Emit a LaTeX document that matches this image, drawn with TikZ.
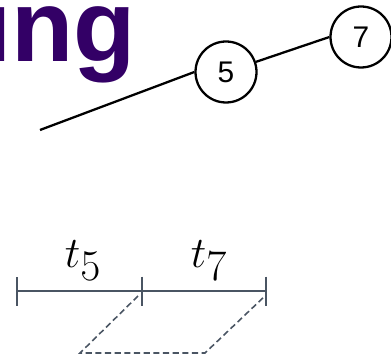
\documentclass[tikz,border=0pt]{standalone}
\usepackage{fontspec}
\setmainfont{Liberation Sans}
\usetikzlibrary{arrows.meta}
\definecolor{titlepurple}{RGB}{51,0,102}
\definecolor{slate}{RGB}{74,85,99}

\begin{document}
\begin{tikzpicture}[x=0.02cm,y=-0.02cm,key/.style={draw,circle,line width=1.3pt,minimum size=1.22cm,inner sep=0pt,font=\fontsize{17}{17}\selectfont},edge/.style={line width=1.3pt},span/.style={slate,line width=1.1pt,{Bar[width=0.58cm]}-{Bar[width=0.58cm]}},tick/.style={slate,line width=1.1pt},link/.style={slate,dash pattern=on 3.5pt off 2pt,line width=0.9pt},label/.style={font=\fontsize{35}{38}\selectfont,inner sep=0pt,anchor=base}]
\useasboundingbox (0,0) rectangle (391,361);
\clip (0,0) rectangle (391,361);
\node[anchor=base west,inner sep=0pt,text=titlepurple,font=\fontsize{58}{60}\selectfont\bfseries] (title) at (-17,62) {ing};
\node[key] (five) at (226,72) {5};
\node[key] (seven) at (361,37) {7};
\coordinate (tail) at (40,130);
\draw[edge] (tail) -- (five.west);
\draw[edge] (five) -- (seven.west);
\coordinate (start) at (16,291);
\coordinate (mid) at (142,291);
\coordinate (end) at (267,291);
\draw[span] (start) -- (end);
\draw[tick] ([shift={(0,-14.5)}]mid) -- ([shift={(0,14.5)}]mid);
\node[label] (tfive) at (83,267) {$t_5$};
\node[label] (tseven) at (209,267) {$t_7$};
\coordinate (lowleft) at (80,353);
\coordinate (lowright) at (205,353);
\draw[link] ([shift={(-4,5)}]mid) -- (lowleft) -- (lowright) -- ([shift={(-1,4)}]end);
\end{tikzpicture}
\end{document}
